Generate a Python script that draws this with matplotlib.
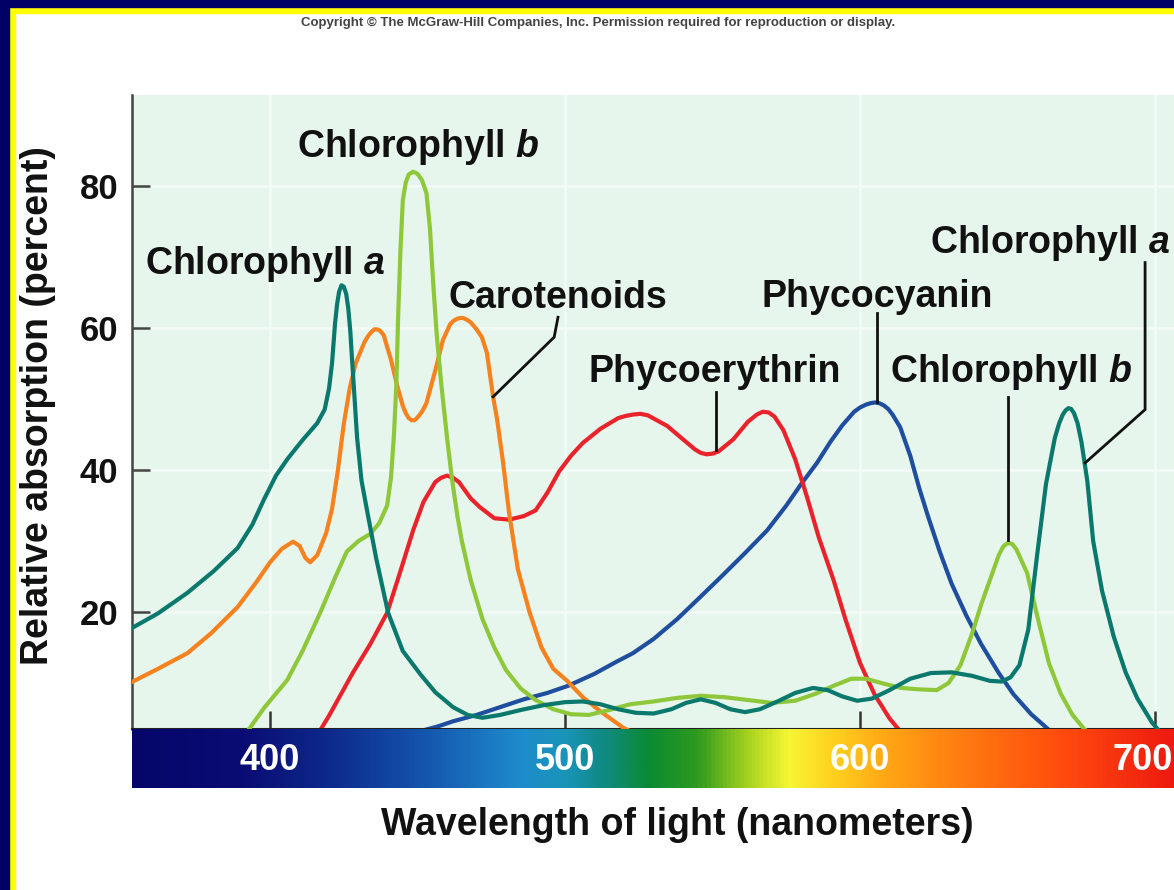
import numpy as np
import matplotlib
matplotlib.use("Agg")
import matplotlib.pyplot as plt
from matplotlib.colors import LinearSegmentedColormap
from matplotlib.patches import Rectangle

plt.rcParams["font.family"] = ["Liberation Sans", "DejaVu Sans"]
plt.rcParams["font.weight"] = "bold"
plt.rcParams["mathtext.fontset"] = "custom"
plt.rcParams["mathtext.it"] = "Liberation Sans:italic:bold"
plt.rcParams["mathtext.rm"] = "Liberation Sans:bold"
plt.rcParams["mathtext.bf"] = "Liberation Sans:bold"

# ---- data (wavelength nm, relative absorption %) ----
chl_a_nm = [353, 362, 372, 381, 389, 394, 398, 402, 406, 411, 416, 418.5, 420, 421, 422, 422.7,
            423.4, 424.2, 425, 425.8, 426.5, 427.2, 427.8, 428.5, 429.5, 431, 433, 436, 440,
            445, 451, 456, 462, 467, 472, 478, 485, 493, 500, 506, 512, 518, 524, 530, 536,
            541, 546, 551, 556, 561, 566, 572, 578, 584, 589, 594, 599, 604, 610, 617, 624,
            631, 638, 644, 648, 651, 654, 657, 660, 663, 666, 667.5, 668.7, 669.7, 670.6,
            671.5, 672.5, 673.7, 675, 677, 679, 682, 686, 690, 694, 699, 704]
chl_a_val = [17.7, 19.8, 22.7, 25.8, 29.0, 32.3, 35.9, 39.2, 41.6, 44.2, 46.6, 48.5, 51.5, 55.0,
             60.5, 63.3, 65.1, 66.0, 65.8, 64.8, 62.8, 59.5, 55.5, 51.0, 44.5, 38.5, 34.0, 27.5,
             19.9, 14.5, 11.2, 8.7, 6.6, 5.5, 5.1, 5.5, 6.2, 6.9, 7.3, 7.4, 7.0, 6.3, 5.8, 5.7,
             6.3, 7.2, 7.7, 7.2, 6.3, 5.9, 6.3, 7.4, 8.6, 9.3, 9.0, 8.1, 7.5, 7.8, 9.0, 10.6,
             11.4, 11.5, 11.0, 10.3, 10.2, 10.8, 12.5, 17.5, 28.0, 38.0, 44.5, 46.6, 47.8, 48.4,
             48.7, 48.6, 48.0, 46.6, 44.0, 38.5, 30.0, 23.0, 16.5, 11.5, 7.8, 4.4, 2.0]

chl_b_nm = [392, 398, 405.8, 411, 417, 422, 426, 430, 434, 437, 439.7, 441, 442, 442.8, 443.4,
            444.2, 445, 446, 447, 448.5, 450, 451.5, 453, 454.2, 455.3, 456.5, 458, 460, 461.7,
            463.5, 465, 468, 472, 476, 480, 485, 490, 496, 502, 508, 515, 522, 530, 538, 546,
            554, 562, 570, 578, 585, 591, 597, 602, 608, 614, 620, 626, 630, 634, 638, 641,
            644, 647, 648.5, 650, 651.5, 653, 656.6, 660, 664, 668, 672, 676, 679]
chl_b_val = [3.0, 6.5, 10.4, 14.5, 19.9, 24.8, 28.5, 30.0, 31.0, 32.5, 35.0, 39.0, 45.0, 52.0,
             61.5, 71.0, 78.0, 80.5, 81.6, 82.0, 81.7, 80.8, 79.0, 74.0, 66.3, 59.0, 52.2, 44.5,
             38.6, 33.5, 30.0, 24.5, 19.0, 15.0, 11.8, 9.2, 7.6, 6.3, 5.6, 5.5, 6.2, 7.0, 7.4,
             7.9, 8.2, 8.0, 7.6, 7.2, 7.5, 8.5, 9.6, 10.6, 10.6, 9.9, 9.3, 9.1, 9.0, 10.0, 12.5,
             17.0, 21.0, 24.5, 28.0, 29.2, 29.7, 29.6, 28.8, 25.5, 19.5, 12.8, 8.5, 5.5, 3.5, 2.5]

carot_nm = [353, 362, 372, 380, 389, 395, 400, 404, 407.8, 410, 412, 413.6, 416, 419, 421, 423,
            425, 427, 429, 432, 433.3, 434.5, 435.4, 436.3, 437.3, 438.5, 441, 443, 445, 446,
            447, 448, 449, 450, 451.5, 453, 456, 458.6, 461, 462.2, 463.5, 464.5, 465.4, 466.5,
            468, 470, 471.8, 473.5, 475.6, 477, 479, 481, 484, 488, 492, 496, 500.7, 506, 512,
            519.7, 524]
carot_val = [10.1, 12.0, 14.2, 17.0, 20.7, 24.0, 27.0, 28.9, 29.9, 29.3, 27.6, 27.0, 28.0, 31.1,
             34.5, 40.0, 46.5, 51.5, 55.0, 58.0, 58.9, 59.5, 59.8, 59.8, 59.6, 59.0, 55.5, 52.0,
             49.0, 48.0, 47.3, 47.0, 47.0, 47.4, 48.2, 49.4, 54.0, 58.3, 60.5, 61.0, 61.3, 61.4,
             61.4, 61.2, 60.8, 59.8, 58.7, 56.5, 50.3, 47.0, 41.0, 34.0, 26.0, 19.9, 15.0, 12.0,
             10.3, 8.0, 6.0, 3.7, 2.8]

phycoery_nm = [416.5, 420, 424, 428, 434, 439.7, 444, 448.5, 452, 456, 458, 460, 462, 464, 468,
               471, 476, 481, 486, 490, 494, 498, 502, 506, 512, 518, 520.5, 523, 525.5, 528,
               534.6, 540, 544, 546, 548, 550, 552, 557, 562, 565, 567, 569, 571, 574, 578, 582,
               586, 591, 595, 600, 605, 610, 614]
phycoery_val = [3.0, 5.4, 8.4, 11.4, 15.5, 19.9, 25.5, 31.5, 35.5, 38.3, 38.9, 39.2, 38.9, 38.3,
                36.0, 34.8, 33.2, 33.0, 33.5, 34.3, 36.8, 39.8, 42.0, 43.8, 45.8, 47.3, 47.6,
                47.8, 47.9, 47.7, 46.2, 44.3, 42.9, 42.4, 42.2, 42.3, 42.6, 44.3, 46.8, 47.8,
                48.2, 48.1, 47.5, 45.6, 41.5, 36.2, 30.5, 24.5, 19.0, 12.8, 8.3, 5.0, 3.0]

phycocy_nm = [449, 457, 462, 470, 478, 486, 494, 501, 510, 517, 523, 530, 538, 545.8, 553, 561,
              568.5, 575, 580, 585.4, 590, 594, 598, 600, 602, 603.5, 605, 606.5, 608, 609.5,
              611, 613.6, 617, 620, 623, 627, 631, 636, 641, 647, 652, 658, 664, 667]
phycocy_val = [3.0, 3.9, 4.6, 5.5, 6.6, 7.7, 8.6, 9.6, 11.3, 12.9, 14.2, 16.2, 19.0, 22.1, 25.0,
               28.3, 31.5, 35.0, 38.0, 41.0, 44.0, 46.3, 48.2, 48.8, 49.2, 49.4, 49.5, 49.4,
               49.1, 48.6, 47.8, 46.0, 42.0, 37.5, 33.5, 28.5, 24.0, 19.5, 15.5, 11.4, 8.4, 5.6,
               3.4, 2.6]

y_ticks = [20, 40, 60, 80]
x_ticks = [400, 500, 600, 700]
x_tick_labels = ["400", "500", "600", "700"]

# visible spectrum strip (nm -> colour)
spec_nm = [353, 390, 420, 450, 485, 500, 512, 528, 545, 562, 576, 590, 610, 640, 670, 707]
spec_col = ["#06066a", "#0a0c74", "#0d2a8c", "#1452ac", "#1e8ccc", "#1a94b8", "#108a88",
            "#0a8a34", "#2e9a1e", "#a6d21e", "#f6f634", "#ffd420", "#ffa414", "#ff7410",
            "#ff4a0e", "#ee1a10"]

C_TEAL = "#0a786c"
C_GREEN = "#8ec83a"
C_ORANGE = "#f5821f"
C_RED = "#e8232b"
C_BLUE = "#1f4e9e"

W, H = 1174, 890
fig = plt.figure(figsize=(W / 100, H / 100), dpi=100)
fig.patch.set_facecolor("white")

XMIN, XMAX = 353.2, 706.4
YMIN, YMAX = 3.52, 92.8

ax = fig.add_axes([132 / W, 1 - 729 / H, (W - 132) / W, (729 - 95) / H])
ax.set_facecolor("#e7f6ec")
ax.set_xlim(XMIN, XMAX)
ax.set_ylim(YMIN, YMAX)

for v in y_ticks:
    ax.axhline(v, color="#f3fbf6", lw=1.8, zorder=0)
for v in x_ticks:
    ax.axvline(v, color="#f3fbf6", lw=1.8, zorder=0)

line_kw = dict(lw=3.0, solid_capstyle="round", solid_joinstyle="round")
ax.plot(phycocy_nm, phycocy_val, color=C_BLUE, zorder=2, **line_kw)
ax.plot(phycoery_nm, phycoery_val, color=C_RED, zorder=2, **line_kw)
ax.plot(carot_nm, carot_val, color=C_ORANGE, zorder=3, **line_kw)
ax.plot(chl_b_nm, chl_b_val, color=C_GREEN, zorder=3, **line_kw)
ax.plot(chl_a_nm, chl_a_val, color=C_TEAL, zorder=4, **line_kw)

for s in ["top", "right"]:
    ax.spines[s].set_visible(False)
ax.spines["left"].set_color("#444444")
ax.spines["left"].set_linewidth(1.8)
ax.spines["bottom"].set_color("#222222")
ax.spines["bottom"].set_linewidth(1.5)

ax.set_yticks(y_ticks)
ax.set_yticklabels([str(v) for v in y_ticks])
ax.set_xticks(x_ticks)
ax.tick_params(axis="y", direction="in", length=13, width=1.8, color="#444444",
               labelsize=25, pad=10, labelcolor="#111111")
ax.tick_params(axis="x", direction="in", length=13, width=1.8, color="#333333",
               labelbottom=False)

# labels and leader lines
fs = 27
ax.text(450.2, 84.1, "Chlorophyll $b$", fontsize=fs, ha="center", va="baseline", color="#111111")
ax.text(398.3, 67.6, "Chlorophyll $a$", fontsize=fs, ha="center", va="baseline", color="#111111")
ax.text(497.6, 62.8, "Carotenoids", fontsize=fs, ha="center", va="baseline", color="#111111")
ax.text(605.8, 63.0, "Phycocyanin", fontsize=fs, ha="center", va="baseline", color="#111111")
ax.text(550.8, 52.4, "Phycoerythrin", fontsize=fs, ha="center", va="baseline", color="#111111")
ax.text(651.2, 52.4, "Chlorophyll $b$", fontsize=fs, ha="center", va="baseline", color="#111111")
ax.text(623.7, 70.6, "Chlorophyll $a$", fontsize=fs, ha="left", va="baseline", color="#111111",
        clip_on=False)

lk = dict(color="#111111", lw=2.0, zorder=5, solid_joinstyle="miter")
ax.plot([497.6, 496.3, 475.6], [61.5, 58.7, 50.3], **lk)
ax.plot([551.2, 551.2], [51.0, 42.8], **lk)
ax.plot([605.8, 605.8], [62.1, 49.6], **lk)
ax.plot([650.2, 650.2], [50.3, 30.1], **lk)
ax.plot([696.6, 696.6, 676.3], [69.2, 48.5, 41.0], **lk)

# spectrum strip
ax_s = fig.add_axes([132 / W, 1 - 788 / H, (W - 132) / W, (788 - 729) / H])
cmap = LinearSegmentedColormap.from_list(
    "spec", [((n - spec_nm[0]) / (spec_nm[-1] - spec_nm[0]), c) for n, c in zip(spec_nm, spec_col)])
grad = np.linspace(spec_nm[0], spec_nm[-1], 800).reshape(1, -1)
ax_s.imshow(grad, cmap=cmap, aspect="auto", extent=[spec_nm[0], spec_nm[-1], 0, 1],
            vmin=spec_nm[0], vmax=spec_nm[-1])
ax_s.set_xlim(XMIN, XMAX)
ax_s.set_ylim(0, 1)
ax_s.axis("off")
for v, lab in zip(x_ticks, x_tick_labels):
    if v == x_ticks[-1]:
        # last label sits at the right edge of the slide
        ax_s.text(XMAX - 0.3, 0.47, lab, fontsize=26, ha="right", va="center", color="white")
    else:
        ax_s.text(v, 0.47, lab, fontsize=26, ha="center", va="center", color="white")

fig.text(38 / W, 1 - 406 / H, "Relative absorption (percent)", rotation=90, fontsize=fs,
         ha="center", va="center", color="#111111")
fig.text(677 / W, 1 - 825 / H, "Wavelength of light (nanometers)", fontsize=fs,
         ha="center", va="center", color="#111111")
fig.text(598 / W, 1 - 26 / H,
         "Copyright \u00a9 The McGraw-Hill Companies, Inc. Permission required for reproduction or display.",
         fontsize=9.5, ha="center", va="baseline", color="#444444",
         family=["Liberation Sans Narrow", "Liberation Sans", "DejaVu Sans"])

# slide frame
fig.patches.append(Rectangle((0, 1 - 13 / H), 1, 6 / H, transform=fig.transFigure,
                             color="#ffff00", zorder=10))
fig.patches.append(Rectangle((9 / W, 0), 6 / W, 1 - 7 / H, transform=fig.transFigure,
                             color="#ffff00", zorder=10))
fig.patches.append(Rectangle((0, 1 - 7 / H), 1, 7 / H, transform=fig.transFigure,
                             color="#000066", zorder=11))
fig.patches.append(Rectangle((0, 0), 9 / W, 1, transform=fig.transFigure,
                             color="#000066", zorder=11))

fig.savefig("out.png", dpi=100)
